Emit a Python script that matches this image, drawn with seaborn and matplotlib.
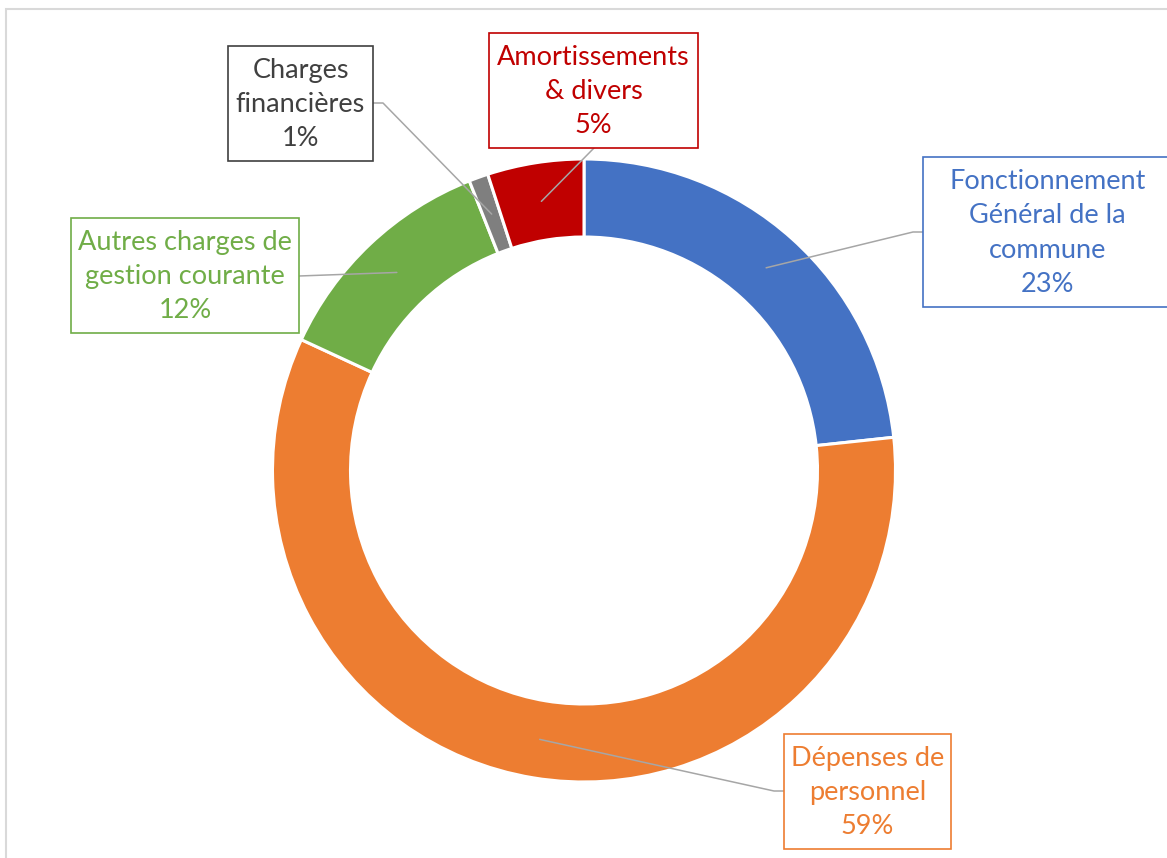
import matplotlib.pyplot as plt
import matplotlib.patches as mpatches
import numpy as np
import seaborn as sns

# --- data ---
categories = ['Fonctionnement\nGénéral de la\ncommune', 'Dépenses de\npersonnel',
              'Autres charges de\ngestion courante', 'Charges\nfinancières',
              'Amortissements\n& divers']
shares = [23.3, 58.6, 12.1, 1.0, 5.0]
colors = ['#4472C4', '#ED7D31', '#70AD47', '#7F7F7F', '#C00000']
text_colors = ['#4472C4', '#ED7D31', '#70AD47', '#404040', '#C00000']

# --- layout (pixels, origin top-left) ---
W, H = 1167, 858
center = (584, 470.5)
radius = 311.5
ring = 78
# label boxes: x0, y0, x1, y1
boxes = [(923, 157, 1180, 307), (784, 734, 951, 849), (71, 218, 299, 333),
         (228, 46, 373, 161), (489, 33, 698, 148)]
# leader start points (box edge, then optional stub)
leaders = [[(923, 232), (913, 232)], [(784, 791), (774, 791)], [(299, 276)],
           [(373, 103), (383, 103)], [(594, 148)]]


def px(x, y):
    return x, H - y


sns.set_theme(style='white')
plt.rcParams['font.family'] = ['Lato', 'DejaVu Sans']

fig = plt.figure(figsize=(W / 100, H / 100), dpi=100)
ax = fig.add_axes([0, 0, 1, 1])

wedges, _ = ax.pie(shares, colors=colors, startangle=90, counterclock=False,
                   radius=radius, center=px(*center),
                   wedgeprops=dict(width=ring, edgecolor='white', linewidth=2.2))
ax.set_xlim(0, W)
ax.set_ylim(0, H)
ax.set_aspect('auto')
ax.axis('off')

# chart border
ax.add_patch(mpatches.Rectangle(px(6, 880), W + 20, 880 - 9, fill=False,
                                edgecolor='#D9D9D9', lw=1.5, clip_on=False))

cx, cy = px(*center)
for w, cat, val, tc, box, lead in zip(wedges, categories, shares, text_colors, boxes, leaders):
    mid = np.deg2rad((w.theta1 + w.theta2) / 2)
    r = radius - ring / 2
    anchor = (cx + r * np.cos(mid), cy + r * np.sin(mid))
    pts = [px(*p) for p in lead] + [anchor]
    ax.plot([p[0] for p in pts], [p[1] for p in pts], color='#A6A6A6', lw=1.1, zorder=3)

    x0, y0, x1, y1 = box
    ax.add_patch(mpatches.Rectangle(px(x0, y1), x1 - x0, y1 - y0, facecolor='white',
                                    edgecolor=tc, lw=1.2, zorder=4, clip_on=False))
    tx, ty = (x0 + x1) / 2, (y0 + y1) / 2 + 1
    if x1 > W:
        tx = 1047.5
    ax.text(*px(tx, ty), f'{cat}\n{round(val)}%', color=tc, fontsize=19.5,
            ha='center', va='center', multialignment='center', linespacing=1.46, zorder=5)

fig.savefig('out.png', dpi=100, facecolor='white')
